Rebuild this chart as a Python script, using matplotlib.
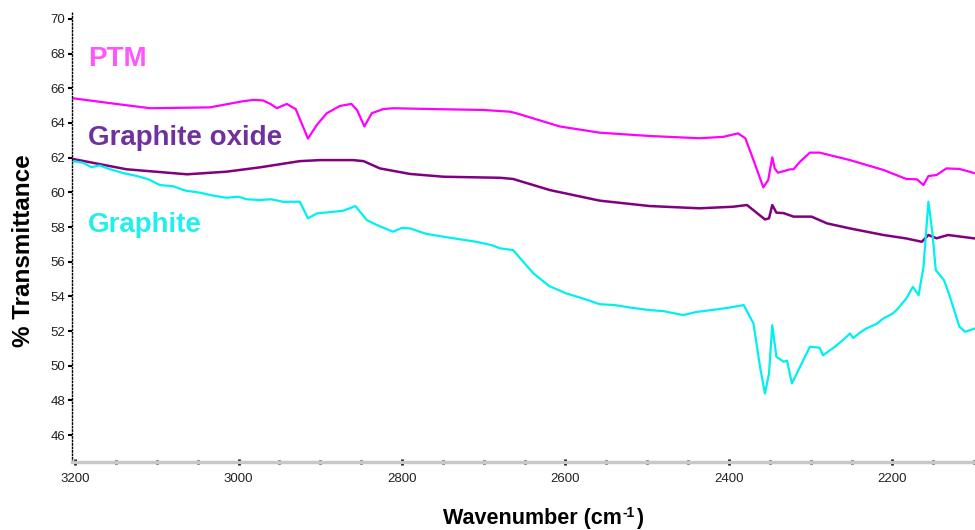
import matplotlib
matplotlib.use("Agg")
import matplotlib.pyplot as plt
from matplotlib.ticker import MultipleLocator

# ---- data ----
ptm_w = [3202, 3150, 3108, 3035, 2995, 2982, 2970, 2961, 2953, 2941, 2930, 2915, 2904, 2892, 2876,
         2862, 2855, 2846, 2837, 2823, 2811, 2760, 2700, 2668, 2660, 2607, 2558, 2497, 2436, 2407,
         2389, 2380, 2370, 2358, 2352, 2347, 2344, 2340, 2325, 2321, 2313, 2301, 2289, 2252, 2211,
         2183, 2170, 2162, 2156, 2146, 2134, 2118, 2099]
ptm_t = [65.42, 65.1, 64.85, 64.9, 65.25, 65.33, 65.3, 65.1, 64.85, 65.1, 64.8, 63.1, 63.9, 64.56, 64.98,
         65.1, 64.75, 63.8, 64.56, 64.8, 64.85, 64.8, 64.75, 64.65, 64.56, 63.8, 63.44, 63.25, 63.12, 63.2,
         63.4, 63.12, 61.86, 60.29, 60.7, 62.02, 61.38, 61.13, 61.33, 61.33, 61.77, 62.29, 62.29, 61.86, 61.29,
         60.77, 60.75, 60.42, 60.94, 61.0, 61.38, 61.35, 61.1]

go_w = [3202, 3137, 3063, 3015, 2974, 2925, 2900, 2860, 2847, 2827, 2790, 2749, 2680, 2664, 2619,
        2558, 2497, 2436, 2395, 2378, 2356, 2351, 2347, 2342, 2333, 2321, 2313, 2299, 2280, 2252,
        2211, 2183, 2164, 2156, 2146, 2132, 2099]
go_t = [61.92, 61.33, 61.04, 61.19, 61.44, 61.8, 61.86, 61.86, 61.8, 61.38, 61.06, 60.9, 60.84, 60.77, 60.13,
        59.52, 59.21, 59.08, 59.17, 59.27, 58.44, 58.5, 59.27, 58.83, 58.8, 58.6, 58.6, 58.6, 58.21, 57.92,
        57.54, 57.34, 57.15, 57.54, 57.35, 57.54, 57.34]

gr_w = [3202, 3190, 3180, 3170, 3157, 3140, 3125, 3110, 3096, 3080, 3065, 3047, 3030, 3015, 3000,
        2990, 2974, 2960, 2945, 2933, 2925, 2915, 2904, 2890, 2872, 2857, 2843, 2830, 2811, 2800,
        2790, 2770, 2749, 2730, 2709, 2690, 2680, 2664, 2650, 2639, 2620, 2599, 2580, 2558, 2540,
        2520, 2497, 2480, 2456, 2440, 2415, 2400, 2382, 2370, 2362, 2356, 2351, 2347, 2342, 2333,
        2329, 2323, 2313, 2301, 2289, 2285, 2272, 2260, 2252, 2248, 2240, 2232, 2220, 2211, 2200,
        2195, 2183, 2175, 2168, 2162, 2156, 2151, 2147, 2137, 2131, 2118, 2111, 2099]
gr_t = [61.8, 61.7, 61.45, 61.55, 61.33, 61.1, 60.95, 60.75, 60.42, 60.35, 60.1, 59.98, 59.8, 59.69, 59.75,
        59.6, 59.56, 59.6, 59.45, 59.46, 59.46, 58.5, 58.79, 58.85, 58.94, 59.21, 58.4, 58.1, 57.73, 57.95,
        57.92, 57.6, 57.44, 57.3, 57.15, 56.95, 56.77, 56.67, 55.9, 55.32, 54.6, 54.17, 53.9, 53.55, 53.5,
        53.35, 53.21, 53.15, 52.92, 53.1, 53.25, 53.35, 53.5, 52.44, 49.94, 48.4, 49.55, 52.34, 50.52, 50.23,
        50.3, 48.98, 49.94, 51.1, 51.04, 50.6, 51.04, 51.5, 51.86, 51.6, 51.9, 52.15, 52.4, 52.73, 53.0,
        53.21, 53.88, 54.55, 54.07, 55.71, 59.46, 57.63, 55.52, 54.94, 54.17, 52.25, 51.96, 52.15]

labels = ["PTM", "Graphite oxide", "Graphite"]
x_ticks = [3200, 3000, 2800, 2600, 2400, 2200]
y_ticks = [46, 48, 50, 52, 54, 56, 58, 60, 62, 64, 66, 68, 70]

# ---- figure ----
W, H = 975, 530
AX_L, AX_T, AX_B = 72, 12, 462
fig = plt.figure(figsize=(9.75, 5.3), dpi=100)
ax = fig.add_axes([AX_L/W, (H-AX_B)/H, 1 - AX_L/W, (AX_B-AX_T)/H])

ax.plot(ptm_w, ptm_t, color="#ff00ff", lw=1.6)
ax.plot(go_w, go_t, color="#800080", lw=1.8)
ax.plot(gr_w, gr_t, color="#00f0f0", lw=1.6)

ax.set_xlim(3203.7, 2099)
ax.set_ylim(44.45, 70.4)

for s in ["top", "right"]:
    ax.spines[s].set_visible(False)
ax.spines["left"].set_linestyle((0, (1, 1.5)))
ax.spines["left"].set_linewidth(1.0)
ax.spines["bottom"].set_color("#c8c8c8")
ax.spines["bottom"].set_linewidth(2.5)

ax.set_xticks(x_ticks)
ax.set_yticks(y_ticks)
ax.xaxis.set_minor_locator(MultipleLocator(50))
ax.tick_params(axis="x", which="major", direction="inout", length=4, width=2, color="black", pad=6)
ax.tick_params(axis="x", which="minor", direction="inout", length=2.5, width=2, color="black")
ax.tick_params(axis="y", which="major", direction="out", length=3, width=1.5, color="black", pad=2)

tick_font = ["Liberation Sans Narrow", "Liberation Sans", "DejaVu Sans"]
for lab in ax.get_xticklabels() + ax.get_yticklabels():
    lab.set_family(tick_font)
    lab.set_fontsize(9.5)
    lab.set_color("#222222")

bold_font = ["Liberation Sans", "DejaVu Sans"]
fig.text(24/W, 1 - 251/H, "% Transmittance", rotation=90, ha="center", va="center",
         fontsize=17.5, fontweight="bold", family=bold_font)

# x label with small superscript, laid out in pixels
BASE = 524
t1 = fig.text(443/W, 1 - BASE/H, "Wavenumber (cm", ha="left", va="baseline",
              fontsize=15.5, fontweight="bold", family=bold_font)
fig.canvas.draw()
r = fig.canvas.get_renderer()
x_end = t1.get_window_extent(r).x1
t2 = fig.text((x_end + 1)/W, 1 - (BASE - 7)/H, "-1", ha="left", va="baseline",
              fontsize=10, fontweight="bold", family=bold_font)
x_end2 = t2.get_window_extent(r).x1
fig.text((x_end2 + 1)/W, 1 - BASE/H, ")", ha="left", va="baseline",
         fontsize=15.5, fontweight="bold", family=bold_font)

def frac(ypix):
    return 1 - (ypix - AX_T) / (AX_B - AX_T)

lab_colors = ["#ff55ff", "#7030a0", "#22eeee"]
lab_base = [66, 145, 232]
for txt, c, yb in zip(labels, lab_colors, lab_base):
    ax.text((88 - AX_L) / (W - AX_L), frac(yb), txt, transform=ax.transAxes, fontsize=20,
            fontweight="bold", color=c, va="baseline", ha="left", family=bold_font)

fig.savefig("out.png", dpi=100)
